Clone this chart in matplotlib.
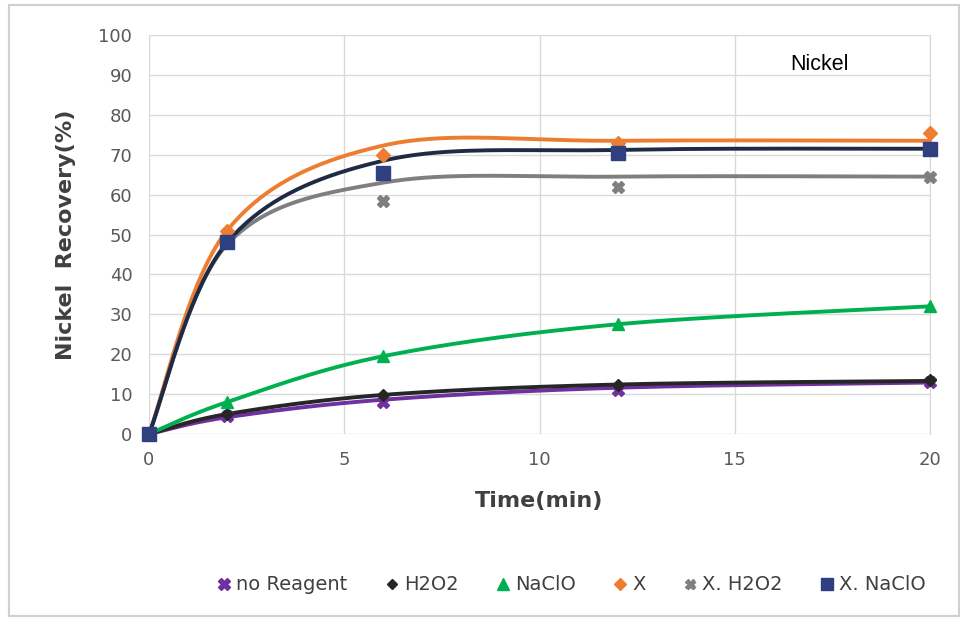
import matplotlib.pyplot as plt
import numpy as np
from matplotlib.patches import Rectangle

# Dane: czas [min] i odzysk niklu [%]
t = [0, 2, 6, 12, 20]
no_reagent = [0, 4.5, 8.0, 11.0, 13.0]
h2o2 = [0, 5.0, 9.8, 12.3, 13.5]
naclo = [0, 8.0, 19.5, 27.5, 32.0]
x_only = [0, 51.0, 70.0, 73.0, 75.5]
x_h2o2 = [0, 48.0, 58.5, 62.0, 64.5]
x_naclo = [0, 48.0, 65.5, 70.5, 71.5]

# Wartosci linii wygladzonych
no_reagent_fit = [0, 4.2, 8.6, 11.6, 12.9]
h2o2_fit = [0, 5.0, 9.8, 12.4, 13.3]
naclo_fit = [0, 8.0, 19.5, 27.5, 32.0]
x_only_fit = [0, 51.0, 72.3, 73.5, 73.5]
x_h2o2_fit = [0, 47.5, 63.0, 64.5, 64.5]
x_naclo_fit = [0, 48.0, 68.5, 71.2, 71.5]


def smooth(xs, ys, n=40):
    # krzywa Beziera jak "wygladzona linia" w Excelu
    p = np.column_stack([xs, ys]).astype(float)
    p = np.vstack([p[0], p, p[-1]])
    out = []
    for i in range(1, len(p) - 2):
        p0, p1, p2, p3 = p[i - 1], p[i], p[i + 1], p[i + 2]
        c1 = p1 + (p2 - p0) / 6
        c2 = p2 - (p3 - p1) / 6
        s = np.linspace(0, 1, n)[:, None]
        seg = (1 - s) ** 3 * p1 + 3 * (1 - s) ** 2 * s * c1 + 3 * (1 - s) * s ** 2 * c2 + s ** 3 * p2
        out.append(seg)
    out = np.vstack(out)
    return out[:, 0], out[:, 1]


fig = plt.figure(figsize=(9.6, 6.21), dpi=100)
ax = fig.add_axes([149 / 960, 1 - 434 / 621, 781 / 960, 399 / 621])

series = [
    ("no Reagent", no_reagent, no_reagent_fit, "#7030A0", "#7030A0", "X", 9),
    ("H2O2", h2o2, h2o2_fit, "#262626", "#262626", "D", 6),
    ("NaClO", naclo, naclo_fit, "#00B050", "#00B050", "^", 9),
    ("X", x_only, x_only_fit, "#ED7D31", "#ED7D31", "D", 7),
    ("X. H2O2", x_h2o2, x_h2o2_fit, "#7F7F7F", "#7F7F7F", "X", 8),
    ("X. NaClO", x_naclo, x_naclo_fit, "#1F2A44", "#2F3F80", "s", 10),
]

handles = []
for name, y, yfit, lc, mc, m, ms in series:
    xs, ys = smooth(t, yfit)
    ax.plot(xs, ys, color=lc, lw=2.8, solid_capstyle="round", zorder=3, clip_on=False)
    h, = ax.plot(t, y, linestyle="none", marker=m, color=mc, markersize=ms, zorder=4, label=name,
                 clip_on=False)
    handles.append(h)

ax.set_xlim(0, 20)
ax.set_ylim(0, 100)
ax.set_xticks([0, 5, 10, 15, 20])
ax.set_yticks(range(0, 101, 10))
ax.grid(True, color="#D9D9D9", lw=1)
ax.set_axisbelow(True)
for s in ax.spines.values():
    s.set_visible(False)
ax.spines["right"].set_visible(True)
ax.spines["right"].set_color("#D9D9D9")
ax.spines["right"].set_zorder(0)
ax.tick_params(length=0, labelsize=13, labelcolor="#595959", pad=12)
ax.set_xlabel("Time(min)", fontsize=16, fontweight="bold", color="#404040", labelpad=16)
ax.set_ylabel("Nickel  Recovery(%)", fontsize=16, fontweight="bold", color="#404040", labelpad=16)
ax.text(0.821, 0.925, "Nickel", transform=ax.transAxes, fontsize=15.5, family="Liberation Sans",
        color="black", va="center")

fig.legend(handles=handles, loc="center", bbox_to_anchor=(570 / 960, 1 - 585 / 621), ncol=6,
           frameon=False, fontsize=14, labelcolor="#404040", handletextpad=0.1, columnspacing=1.8,
           handlelength=1.0, markerscale=0.9)

fig.patches.append(Rectangle((9 / 960, 5 / 621), 950 / 960, 611 / 621, transform=fig.transFigure,
                             fill=False, edgecolor="#D0D0D0", lw=1.5))

fig.savefig("out.png", dpi=100)
